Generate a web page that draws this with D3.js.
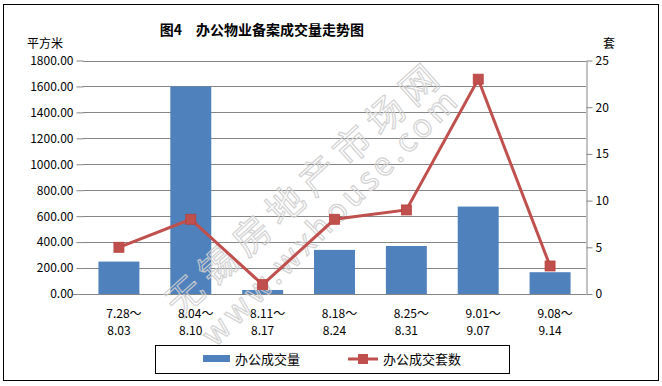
<!DOCTYPE html>
<html>
<head>
<meta charset="utf-8">
<script src="https://cdn.jsdelivr.net/npm/d3@7"></script>
<style>
  body { margin: 0; background: #fff; }
  text { font-family: "Noto Sans CJK SC", "DejaVu Sans", sans-serif; }
</style>
</head>
<body>
<svg id="chart" width="662" height="386"></svg>
<script>
const weeks = ['7.28～\n8.03', '8.04～\n8.10', '8.11～\n8.17', '8.18～\n8.24',
  '8.25～\n8.31', '9.01～\n9.07', '9.08～\n9.14'];
const area = [250, 1600, 31, 340, 370, 674, 168]; // 办公成交量, 平方米
const units = [5, 8, 1, 8, 9, 23, 3]; // 办公成交套数
const leftTicks = [0, 200, 400, 600, 800, 1000, 1200, 1400, 1600, 1800];
const rightTicks = [0, 5, 10, 15, 20, 25];

const blue = '#4F81BD';
const red = '#C0504D';
const grid = '#868686';

const svg = d3.select('#chart');
const plotL = 83, plotR = 586, plotT = 60.5, plotB = 294;

// outer frame
svg.append('rect')
    .attr('x', 3.5).attr('y', 4.5)
    .attr('width', 655).attr('height', 376)
    .attr('fill', '#fff').attr('stroke', '#000').attr('stroke-width', 1);

const x = d3.scaleBand().domain(weeks).range([plotL, plotR]).paddingInner(0.43).paddingOuter(0.215);
const y = d3.scaleLinear().domain([0, 1800]).range([plotB, plotT]);
const y2 = d3.scaleLinear().domain([0, 25]).range([plotB, plotT]);

// gridlines
svg.append('g').selectAll('line').data(leftTicks.slice(1)).join('line')
    .attr('x1', plotL).attr('x2', plotR)
    .attr('y1', (d) => Math.round(y(d)) + 0.5).attr('y2', (d) => Math.round(y(d)) + 0.5)
    .attr('stroke', grid);

// bars
svg.append('g').selectAll('rect').data(area).join('rect')
    .attr('x', (d, i) => x(weeks[i]))
    .attr('width', x.bandwidth())
    .attr('y', (d) => y(d))
    .attr('height', (d) => plotB - y(d))
    .attr('fill', blue);

// left axis
const yAxis = svg.append('g')
    .attr('transform', `translate(${plotL + 0.5},0)`)
    .call(d3.axisLeft(y).tickValues(leftTicks).tickFormat(d3.format('.2f')).tickSize(7).tickSizeOuter(0));
yAxis.select('.domain').remove();
yAxis.selectAll('line').attr('stroke', grid);
yAxis.selectAll('text').attr('x', -10).style('font-size', '12px').attr('fill', '#000');

// right axis
const y2Axis = svg.append('g')
    .attr('transform', `translate(${plotR + 0.5},0)`)
    .call(d3.axisRight(y2).tickValues(rightTicks).tickSize(6).tickSizeOuter(0));
y2Axis.select('.domain').attr('stroke', grid);
y2Axis.selectAll('line').attr('stroke', grid);
y2Axis.selectAll('text').attr('x', 9).style('font-size', '12px').attr('fill', '#000');

// x axis line
svg.append('line')
    .attr('x1', plotL - 10).attr('x2', plotR)
    .attr('y1', plotB + 0.5).attr('y2', plotB + 0.5)
    .attr('stroke', grid);

// watermark (drawn over the bars, under the line)
const wm = svg.append('g')
    .attr('fill', 'none').attr('stroke', '#cfcfcf').attr('stroke-width', 1.2)
    .attr('opacity', 0.9);
wm.append('text')
    .attr('transform', 'translate(180,318) rotate(-42)')
    .style('font-size', '37px').style('letter-spacing', '8px')
    .text('无锡房地产市场网');
wm.append('text')
    .attr('transform', 'translate(215,348) rotate(-45)')
    .style('font-size', '32px').style('letter-spacing', '4px')
    .text('www.wxhouse.com');

// line series
const cx = (i) => x(weeks[i]) + x.bandwidth() / 2;
svg.append('path')
    .datum(units)
    .attr('d', d3.line().x((d, i) => cx(i)).y((d) => y2(d)))
    .attr('fill', 'none').attr('stroke', red).attr('stroke-width', 3);
svg.append('g').selectAll('rect').data(units).join('rect')
    .attr('x', (d, i) => cx(i) - 5).attr('y', (d) => y2(d) - 5)
    .attr('width', 10).attr('height', 10)
    .attr('fill', red).attr('stroke', '#b9403d').attr('stroke-width', 0.8);

// x labels
const xl = svg.append('g').selectAll('text').data(weeks).join('text')
    .attr('text-anchor', 'middle')
    .style('font-size', '12px');
xl.each(function(d) {
  const parts = d.split('\n');
  const t = d3.select(this);
  const xc = x(d) + x.bandwidth() / 2;
  t.append('tspan').attr('x', xc + 5).attr('y', 318).text(parts[0]);
  t.append('tspan').attr('x', xc).attr('y', 335).text(parts[1]);
});

// title and unit labels
svg.append('text').attr('x', 262).attr('y', 35).attr('text-anchor', 'middle')
    .style('font-size', '14px').style('font-weight', 'bold')
    .text('图4　办公物业备案成交量走势图');
svg.append('text').attr('x', 27).attr('y', 48).style('font-size', '12px').text('平方米');
svg.append('text').attr('x', 603).attr('y', 48).style('font-size', '12px').text('套');

// legend
const lg = svg.append('g');
lg.append('rect').attr('x', 155.5).attr('y', 345.5).attr('width', 354).attr('height', 28)
    .attr('fill', '#fff').attr('stroke', '#000');
lg.append('rect').attr('x', 203).attr('y', 355).attr('width', 27).attr('height', 7).attr('fill', blue);
lg.append('text').attr('x', 235).attr('y', 364).style('font-size', '13px').text('办公成交量');
lg.append('line').attr('x1', 348).attr('x2', 378).attr('y1', 359).attr('y2', 359)
    .attr('stroke', red).attr('stroke-width', 3);
lg.append('rect').attr('x', 358).attr('y', 354).attr('width', 10).attr('height', 10).attr('fill', red);
lg.append('text').attr('x', 383).attr('y', 364).style('font-size', '13px').text('办公成交套数');
</script>
</body>
</html>
